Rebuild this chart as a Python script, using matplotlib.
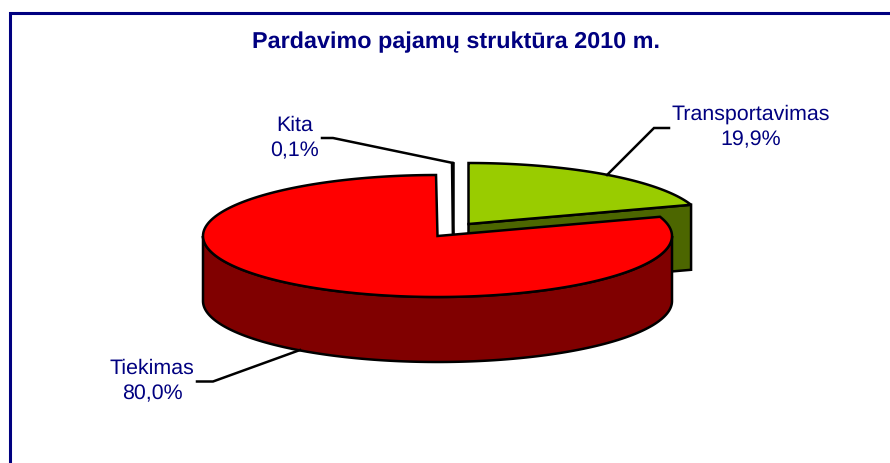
import numpy as np
import matplotlib
matplotlib.use("Agg")
import matplotlib.pyplot as plt
from matplotlib.patches import Polygon

plt.rcParams['font.family'] = ['Liberation Sans', 'DejaVu Sans']
plt.rcParams['text.hinting'] = 'none'

title = "Pardavimo pajamų struktūra 2010 m."
categories = ["Transportavimas", "Tiekimas", "Kita"]
values = [19.9, 80.0, 0.1]
top_colors = ["#99CC00", "#FF0000", "#FFFFFF"]
side_colors = ["#4C6600", "#800000", "#FFFFFF"]

NAVY = "#000080"
LW = 1.8
CX, CY, A, B, DEPTH = 437.5, 236.0, 234.5, 61.0, 65.0
offsets = {"Transportavimas": (31, -12), "Tiekimas": (0, 0), "Kita": (16, -12)}

fig = plt.figure(figsize=(8.9, 4.63), dpi=100)
ax = fig.add_axes([0, 0, 1, 1])
ax.set_xlim(0, 890)
ax.set_ylim(463, 0)
ax.axis("off")

# wedge angles, clockwise from 12 o'clock
fr = np.array(values) / sum(values) * 360
ends = 90 - np.cumsum(fr)
starts = ends + fr


def rim(a0, a1, ox=0, oy=0, dz=0, n=200):
    t = np.radians(np.linspace(a0, a1, n))
    return np.column_stack([CX + ox + A * np.cos(t), CY + oy + dz - B * np.sin(t)])


def poly(pts, fc, z, join="miter"):
    ax.add_patch(Polygon(pts, closed=True, fc=fc, ec="black", lw=LW, joinstyle=join, zorder=z))


# Kita (exploded, white sliver whose cut face runs down behind the red slice)
i = 2
ox, oy = offsets[categories[i]]
c = np.array([CX + ox, CY + oy])
poly(np.vstack([[c + [0, DEPTH]], rim(starts[i], ends[i], ox, oy)]), top_colors[i], 1, join="round")

# Transportavimas: cut face, then top
i = 0
ox, oy = offsets[categories[i]]
c = np.array([CX + ox, CY + oy])
p = rim(ends[i], ends[i], ox, oy, n=1)[0]
poly([c, p, p + [0, DEPTH], c + [0, DEPTH]], side_colors[i], 2)
poly(np.vstack([[c], rim(starts[i], ends[i], ox, oy)]), top_colors[i], 3)

# Tiekimas: outer wall, then top
i = 1
front = rim(0, -180)
poly(np.vstack([front, front[::-1] + [0, DEPTH]]), side_colors[i], 4)
poly(np.vstack([[[CX, CY]], rim(starts[i], ends[i])]), top_colors[i], 5)

# leaders
leaders = {
    "Transportavimas": [(607, 175), (654, 128), (669, 128)],
    "Tiekimas": [(300, 350), (213, 381.5), (197, 381.5)],
    "Kita": [(453, 163), (333, 138), (322, 138)],
}
for pts in leaders.values():
    xs, ys = zip(*pts)
    ax.plot(xs, ys, color="black", lw=LW, solid_joinstyle="miter", zorder=6)

# labels
label_pos = {"Transportavimas": (751, 127), "Tiekimas": (152, 381), "Kita": (295, 138)}
for name, v in zip(categories, values):
    x, y = label_pos[name]
    ax.text(x, y, f"{name}\n{v:.1f}%".replace(".", ","), ha="center", va="center",
            color=NAVY, fontsize=15.4, linespacing=1.4, zorder=7)

ax.text(456, 42, title, ha="center", va="center", color=NAVY, fontsize=16.8, fontweight="bold")

# frame
ax.plot([10, 10, 890], [463, 13, 13], color=NAVY, lw=2.2, solid_joinstyle="miter", zorder=8)

fig.savefig("out.png", dpi=100, facecolor="white")
